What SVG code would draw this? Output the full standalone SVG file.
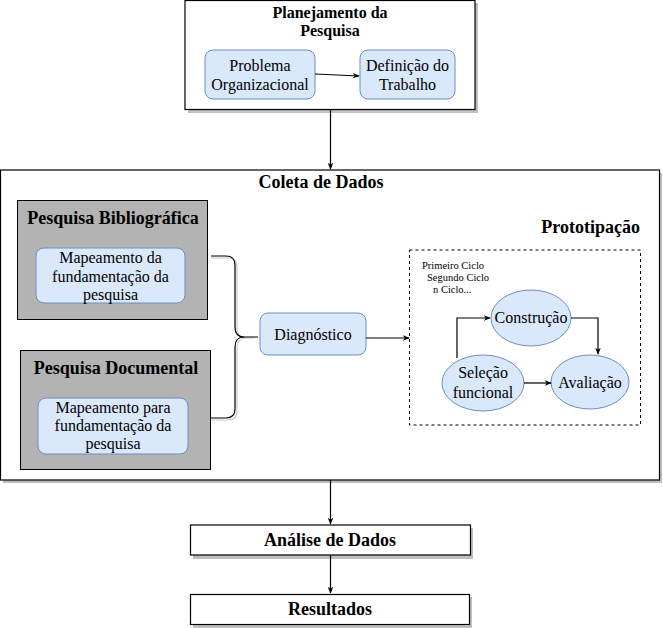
<svg xmlns="http://www.w3.org/2000/svg" width="663" height="628" viewBox="0 0 663 628">
<defs>
<marker id="arr" viewBox="0 0 10 10" refX="9" refY="5" markerWidth="7" markerHeight="7" orient="auto" markerUnits="userSpaceOnUse">
<path d="M0,1 L10,5 L0,9 L3,5 Z" fill="#000"/>
</marker>
<style>
.frame{fill:#fff;stroke:#000;stroke-width:1.2}
.shadow{fill:#bfbfbf;stroke:none}
.gray{fill:#b3b3b3;stroke:#000;stroke-width:1}
.blue{fill:#dae8fc;stroke:#6c8ebf;stroke-width:1}
.t{font-family:"Liberation Serif","Times New Roman",serif;fill:#000;text-anchor:middle}
.b{font-weight:bold;font-size:18px}
.b16{font-weight:bold;font-size:16px}
.l{font-size:16px}
.s{font-size:10.5px;text-anchor:start}
.c{fill:none;stroke:#000;stroke-width:1.2}
.cs{fill:none;stroke:#c8c8c8;stroke-width:1.2}
</style>
</defs>

<g id="planejamento">
<rect class="shadow" x="188" y="3" width="290" height="110"/>
<rect class="frame" x="185" y="0.5" width="290" height="109"/>
<text class="t b16" x="330" y="18">Planejamento da</text>
<text class="t b16" x="330" y="36">Pesquisa</text>
</g>
<g id="problema">
<rect class="blue" x="205" y="50" width="110" height="49" rx="8"/>
<text class="t l" x="260" y="71">Problema</text>
<text class="t l" x="260" y="90">Organizacional</text>
</g>
<g id="definicao">
<rect class="blue" x="360" y="50" width="95" height="49" rx="8"/>
<text class="t l" x="407.5" y="71">Definição do</text>
<text class="t l" x="407.5" y="90">Trabalho</text>
</g>

<g id="coleta">
<rect class="shadow" x="3" y="173" width="659" height="310"/>
<rect class="frame" x="0.5" y="170" width="659" height="310"/>
<text class="t b" x="321" y="188">Coleta de Dados</text>
<text class="t b" x="640" y="233" style="text-anchor:end">Prototipação</text>
</g>
<g id="bibliografica">
<rect class="gray" x="17.5" y="200.5" width="190" height="119"/>
<text class="t b" x="113" y="224">Pesquisa Bibliográfica</text>
</g>
<g id="mapeamento1">
<rect class="blue" x="36" y="248" width="149" height="55" rx="8"/>
<text class="t l" x="110.5" y="263">Mapeamento da</text>
<text class="t l" x="110.5" y="282">fundamentação da</text>
<text class="t l" x="110.5" y="300">pesquisa</text>
</g>
<g id="documental">
<rect class="gray" x="20.5" y="350.5" width="190" height="119"/>
<text class="t b" x="116" y="374">Pesquisa Documental</text>
</g>
<g id="mapeamento2">
<rect class="blue" x="38" y="398" width="150" height="56" rx="8"/>
<text class="t l" x="113" y="413">Mapeamento para</text>
<text class="t l" x="113" y="431">fundamentação da</text>
<text class="t l" x="113" y="449">pesquisa</text>
</g>
<g id="diagnostico">
<rect class="blue" x="260" y="313" width="106" height="42" rx="8"/>
<text class="t l" x="313" y="340">Diagnóstico</text>
</g>
<g id="prototipacao-ciclos">
<rect x="409.5" y="250" width="231" height="175" fill="none" stroke="#000" stroke-width="1" stroke-dasharray="3,3"/>
<text class="t s" x="422" y="269">Primeiro Ciclo</text>
<text class="t s" x="427" y="281">Segundo Ciclo</text>
<text class="t s" x="433" y="293">n Ciclo...</text>
</g>
<g id="construcao">
<ellipse class="blue" cx="531" cy="318" rx="40" ry="28"/>
<text class="t l" x="531" y="323">Construção</text>
</g>
<g id="selecao">
<ellipse class="blue" cx="483" cy="383" rx="41" ry="28"/>
<text class="t l" x="483" y="378">Seleção</text>
<text class="t l" x="483" y="398">funcional</text>
</g>
<g id="avaliacao">
<ellipse class="blue" cx="590" cy="382" rx="39" ry="27"/>
<text class="t l" x="590" y="388">Avaliação</text>
</g>

<g id="analise">
<rect class="shadow" x="193" y="528" width="280" height="31"/>
<rect class="frame" x="190.5" y="525" width="280" height="30"/>
<text class="t b" x="330" y="546">Análise de Dados</text>
</g>
<g id="resultados">
<rect class="shadow" x="193" y="597" width="279" height="31"/>
<rect class="frame" x="190.5" y="594.5" width="279" height="30"/>
<text class="t b" x="330" y="615">Resultados</text>
</g>

<g id="connectors">
<path class="c" d="M315,74 L359,76" marker-end="url(#arr)"/>
<path class="c" d="M330.5,110 L330.5,169" marker-end="url(#arr)"/>
<path class="cs" d="M211,258 L228,258 Q237,258 237,267 L237,328 Q237,338 246,338 L255,338"/>
<path class="cs" d="M211,420 L228,420 Q237,420 237,411 L237,348 Q237,338 246,338"/>
<path class="c" d="M211,256 L226,256 Q235,256 235,265 L235,327 Q235,337 244,337 L258,337"/>
<path class="c" d="M211,418 L226,418 Q235,418 235,409 L235,347 Q235,337 244,337"/>
<path class="c" d="M366,338 L409,338" marker-end="url(#arr)"/>
<path class="c" d="M457,358 L457,318 L490,318" marker-end="url(#arr)"/>
<path class="c" d="M571,318 L598,318 L598,354" marker-end="url(#arr)"/>
<path class="c" d="M524,383 L551,383" marker-end="url(#arr)"/>
<path class="c" d="M330.5,480 L330.5,524" marker-end="url(#arr)"/>
<path class="c" d="M330.5,555 L330.5,593" marker-end="url(#arr)"/>
</g>
</svg>
